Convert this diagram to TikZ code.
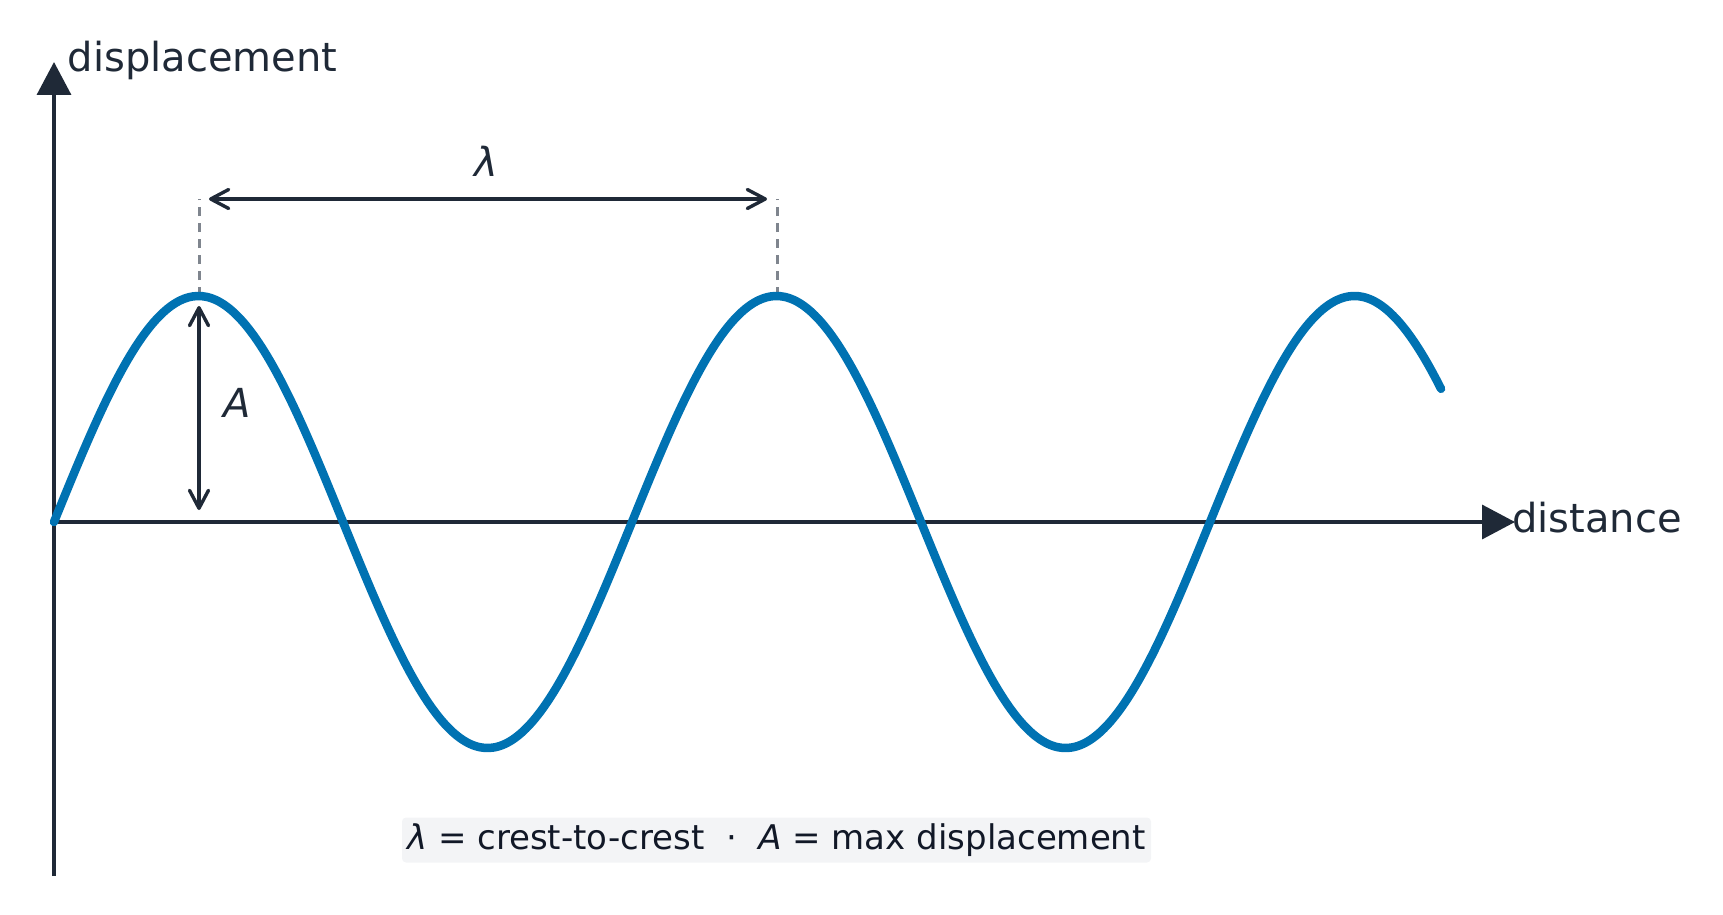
\documentclass[tikz,border=0pt]{standalone}
\usepackage{fontspec}
\setmainfont{DejaVu Sans}
\usetikzlibrary{arrows.meta}
\definecolor{ink}{HTML}{1F2937}
\definecolor{wavec}{HTML}{0072B2}
\definecolor{guide}{HTML}{7F858E}
\definecolor{capbg}{HTML}{F3F4F6}
\definecolor{capink}{HTML}{111827}
\begin{document}
\begin{tikzpicture}[x=1pt,y=-1pt,
  axisline/.style={draw=ink, line width=3.5pt, -{Triangle[length=33pt,width=34pt]}},
  dimline/.style={draw=ink, line width=3.4pt, line cap=round,
     {Straight Barb[length=18pt,width=19pt,line cap=round,line join=round]}-{Straight Barb[length=18pt,width=19pt,line cap=round,line join=round]}},
  guideline/.style={draw=guide, line width=3pt, dash pattern=on 9pt off 7pt},
  waveline/.style={draw=wavec, line width=8.5pt, line cap=round, line join=round},
  axlabel/.style={text=ink, inner sep=0pt, font=\fontsize{40}{48}\selectfont},
  symlabel/.style={text=ink, inner sep=0pt, font=\fontsize{40}{48}\selectfont\itshape},
  capbox/.style={fill=capbg, rounded corners=4pt, text=capink, inner xsep=0pt, inner ysep=6.5pt,
     minimum width=749pt, text height=25pt, text depth=7pt, font=\fontsize{34}{40}\selectfont}
]
\useasboundingbox (0,0) rectangle (1723,915);

% axes
\coordinate (yb) at (54,876);
\coordinate (yt) at (54,62);
\coordinate (o) at (54,522);
\coordinate (xt) at (1515,522);
\draw[axisline] (yb) -- (yt);
\draw[axisline] (o) -- (xt);
\node[axlabel, anchor=base west] (ylab) at (67.5,71.7) {displacement};
\node[axlabel, anchor=base west] (xlab) at (1512,532.7) {distance};

% crest guides
\coordinate (c1) at (199,296);
\coordinate (c2) at (777,296);
\coordinate (g1) at (199,199);
\coordinate (g2) at (777,199);
\draw[guideline] (c1) -- (g1);
\draw[guideline] (c2) -- (g2);

% wave
\draw[waveline] plot[domain=0:2.4014, samples=320, smooth] ({54+578*\x}, {522-226*sin(360*\x)});

% wavelength arrow
\coordinate (l1) at (209,199);
\coordinate (l2) at (767,199);
\draw[dimline] (l1) -- (l2);
\node[symlabel, anchor=base] (lam) at (486,176) {λ};

% amplitude arrow
\coordinate (a1) at (199,306);
\coordinate (a2) at (199,510);
\draw[dimline] (a1) -- (a2);
\node[symlabel, anchor=base west] (alab) at (223,417) {A};

% caption
\node[capbox, anchor=base] (cap) at (776.5,849) {{\itshape λ} = crest-to-crest~~·~~{\itshape A} = max displacement};
\end{tikzpicture}
\end{document}
